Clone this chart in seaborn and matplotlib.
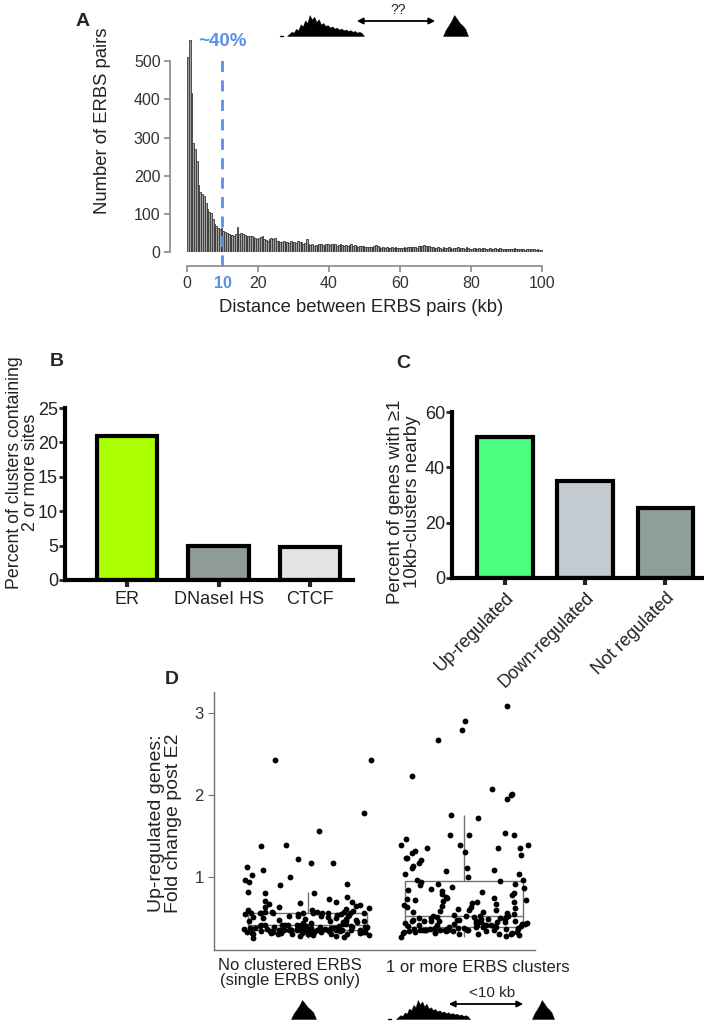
import numpy as np
import pandas as pd
import matplotlib
matplotlib.use('Agg')
import matplotlib.pyplot as plt
import seaborn as sns

W, H = 704, 1023

# Panel A: distances between ERBS pairs, 0.5 kb bins from 0 to 100 kb
bin_edges = np.arange(0, 100.5, 0.5)
pair_counts = [
    510, 555, 418, 285, 269, 238, 176, 158, 153, 147, 128, 112, 106, 101, 86, 73, 68, 64, 59, 62,
    55, 52, 50, 47, 45, 44, 41, 46, 66, 48, 50, 46, 44, 42, 41, 43, 42, 40, 36, 35,
    38, 40, 41, 34, 31, 30, 33, 36, 35, 38, 30, 28, 27, 25, 29, 26, 27, 24, 28, 26,
    27, 24, 29, 25, 26, 22, 24, 35, 20, 18, 21, 17, 19, 18, 20, 22, 19, 17, 20, 21,
    19, 20, 18, 21, 17, 19, 20, 18, 16, 19, 17, 18, 20, 16, 18, 17, 14, 17, 15, 16,
    13, 12, 14, 12, 13, 16, 18, 17, 12, 11, 13, 10, 12, 11, 10, 12, 11, 13, 10, 11,
    11, 10, 12, 11, 13, 12, 14, 13, 12, 11, 16, 17, 15, 18, 16, 15, 17, 14, 12, 11,
    10, 12, 11, 9, 12, 10, 11, 13, 10, 9, 11, 10, 12, 9, 11, 10, 9, 12, 10, 9,
    9, 11, 10, 8, 10, 9, 11, 10, 8, 9, 10, 8, 9, 11, 9, 8, 10, 9, 8, 9,
    8, 9, 7, 8, 10, 8, 7, 9, 8, 7, 6, 8, 7, 6, 7, 8, 6, 7, 5, 6,
]
a_xticks = [0, 20, 40, 60, 80, 100]
a_yticks = [0, 100, 200, 300, 400, 500]

# Panel B
b_marks = ['ER', 'DNaseI HS', 'CTCF']
b_percent = [21.0, 5.0, 4.8]
b_colors = ['#aaff00', '#8f9b98', '#e3e5e5']

# Panel C
c_groups = ['Up-regulated', 'Down-regulated', 'Not regulated']
c_percent = [50.9, 35.1, 25.4]
c_colors = ['#4dff80', '#c3cbd0', '#909e9a']

# Panel D: fold change of up-regulated genes
d_groups = ['No clustered ERBS\n(single ERBS only)', '1 or more ERBS clusters']
fold_single = [
    0.26, 0.27, 0.28, 0.28, 0.29, 0.29, 0.30, 0.30, 0.30, 0.31, 0.31, 0.31, 0.31, 0.32, 0.32, 0.32,
    0.32, 0.32, 0.33, 0.33, 0.33, 0.33, 0.33, 0.33, 0.34, 0.34, 0.34, 0.34, 0.34, 0.34, 0.34, 0.35,
    0.35, 0.35, 0.35, 0.35, 0.35, 0.35, 0.35, 0.35,
    0.36, 0.36, 0.36, 0.36, 0.36, 0.36, 0.36, 0.36, 0.37, 0.37, 0.37, 0.37, 0.37, 0.37, 0.37, 0.37,
    0.38, 0.38, 0.38, 0.38, 0.38, 0.38, 0.38, 0.38, 0.39, 0.39, 0.39, 0.39, 0.39, 0.39, 0.40, 0.40,
    0.40, 0.40, 0.40, 0.40, 0.41, 0.41, 0.41, 0.41,
    0.41, 0.42, 0.42, 0.43, 0.43, 0.44, 0.44, 0.45, 0.45, 0.46, 0.46, 0.47, 0.47, 0.48, 0.48, 0.49,
    0.49, 0.50, 0.50, 0.51, 0.51, 0.52, 0.52, 0.53, 0.53, 0.54, 0.54, 0.55, 0.55, 0.55, 0.56, 0.56,
    0.56, 0.56, 0.56, 0.56, 0.56, 0.56, 0.56, 0.56,
    0.57, 0.57, 0.58, 0.58, 0.59, 0.60, 0.60, 0.61, 0.62, 0.63, 0.64, 0.65, 0.66, 0.67, 0.68, 0.69,
    0.70, 0.71, 0.73, 0.76, 0.81, 0.81, 0.82, 0.90, 0.92, 0.94, 0.96, 1.00, 1.03, 1.09, 1.12, 1.17,
    1.17, 1.22, 1.38, 1.39, 1.56, 1.78, 2.43, 2.43,
]
fold_cluster = [
    0.27, 0.28, 0.29, 0.30, 0.30, 0.31, 0.31, 0.32, 0.32, 0.32, 0.33, 0.33, 0.33, 0.33, 0.34, 0.34,
    0.34, 0.34, 0.35, 0.35, 0.35, 0.35, 0.35, 0.36, 0.36, 0.36, 0.36, 0.36, 0.37, 0.37, 0.37, 0.37,
    0.37, 0.38, 0.38, 0.38, 0.38, 0.39, 0.39, 0.39,
    0.39, 0.40, 0.40, 0.40, 0.41, 0.41, 0.41, 0.42, 0.42, 0.42, 0.43, 0.43, 0.43, 0.44, 0.44, 0.44,
    0.45, 0.45, 0.45, 0.46, 0.46, 0.46, 0.47, 0.47, 0.47, 0.48, 0.48, 0.48, 0.49, 0.49, 0.49, 0.50,
    0.50, 0.50, 0.51, 0.51, 0.51, 0.52, 0.52, 0.52,
    0.53, 0.54, 0.55, 0.56, 0.57, 0.58, 0.59, 0.60, 0.60, 0.61, 0.62, 0.63, 0.64, 0.65, 0.66, 0.67,
    0.68, 0.69, 0.70, 0.71, 0.72, 0.72, 0.73, 0.74, 0.75, 0.76, 0.78, 0.79, 0.80, 0.82, 0.83, 0.84,
    0.86, 0.87, 0.88, 0.90, 0.91, 0.92, 0.94, 0.95,
    0.96, 0.96, 1.00, 1.04, 1.04, 1.08, 1.09, 1.11, 1.11, 1.13, 1.17, 1.21, 1.23, 1.23, 1.27, 1.30,
    1.31, 1.32, 1.35, 1.35, 1.35, 1.39, 1.39, 1.39, 1.46, 1.51, 1.51, 1.52, 1.54, 1.72, 1.76, 1.95,
    2.00, 2.02, 2.07, 2.23, 2.67, 2.79, 2.91, 3.09,
]
d_yticks = [1, 2, 3]

# little peak drawings (relative heights)
broad_peak = [0, 0.1, 0.2, 0.16, 0.34, 0.28, 0.55, 0.46, 0.74, 0.62, 1.0, 0.78, 0.92, 0.66, 0.8, 0.55,
              0.62, 0.48, 0.52, 0.4, 0.46, 0.35, 0.4, 0.3, 0.36, 0.27, 0.31, 0.24, 0.28, 0.2, 0.24,
              0.16, 0.2, 0.14, 0]
sharp_peak = [0, 0.3, 0.5, 0.72, 1.0, 0.82, 0.62, 0.5, 0.35, 0]

sns.set_style('ticks')
plt.rcParams['font.family'] = ['Liberation Sans', 'DejaVu Sans']

fig = plt.figure(figsize=(W / 100, H / 100), dpi=100)


def px_axes(left, top, right, bottom):
    return fig.add_axes([left / W, 1 - bottom / H, (right - left) / W, (bottom - top) / H])


# ---- Panel A
blue = '#5b8fe8'
axA = px_axes(180, 38.4, 545, 252)
hist_df = pd.DataFrame({'kb': bin_edges[:-1] + 0.25, 'pairs': pair_counts})
sns.histplot(data=hist_df, x='kb', weights='pairs', bins=list(bin_edges), ax=axA,
             color='#a3a3a3', edgecolor='#383838', linewidth=0.6, alpha=1)
axA.set_xlim(-1.97, 100.85)
axA.set_ylim(0, 560)
sns.despine(ax=axA)
axA.spines['left'].set_position(('outward', 7))
axA.spines['bottom'].set_position(('outward', 10))
axA.spines['left'].set_bounds(0, 500)
axA.spines['bottom'].set_bounds(0, 100)
for s in ['left', 'bottom']:
    axA.spines[s].set_color('#8a8a8a')
    axA.spines[s].set_linewidth(1.2)
axA.set_xticks(a_xticks)
axA.set_yticks(a_yticks)
axA.tick_params(labelsize=11.5, colors='#8a8a8a', labelcolor='#333333', length=4, width=1.2, pad=3)
axA.set_xticks([10], minor=True)
axA.set_xticklabels(['10'], minor=True)
axA.tick_params(axis='x', which='minor', length=0, pad=7, labelsize=11.5, labelcolor=blue)
for t in axA.get_xticklabels(minor=True):
    t.set_fontweight('bold')
axA.plot([10, 10], [-36, 525], ls='--', color=blue, lw=2, dashes=(4, 3), clip_on=False)
axA.text(10, 553, '~40%', color=blue, fontsize=13.5, fontweight='bold', ha='center', va='center')
axA.set_xlabel('Distance between ERBS pairs (kb)', fontsize=13.3, color='#222222')
axA.set_ylabel('Number of ERBS pairs', fontsize=13.3, color='#222222')
axA.xaxis.set_label_coords(0.496, -0.222)
axA.yaxis.set_label_coords(-0.19, 0.613)

# ---- Panel B
axB = px_axes(65, 408, 353, 580)
sns.barplot(x=b_marks, y=b_percent, hue=b_marks, palette=b_colors, legend=False,
            saturation=1, width=0.66, edgecolor='black', linewidth=3, ax=axB)
axB.set_xlim(-0.68, 2.47)
axB.set_ylim(0, 25)
axB.set_yticks([0, 5, 10, 15, 20, 25])
sns.despine(ax=axB)
for s in ['left', 'bottom']:
    axB.spines[s].set_linewidth(3)
    axB.spines[s].set_color('black')
axB.tick_params(axis='y', labelsize=13, length=4, width=2, pad=1, labelcolor='#222222')
axB.tick_params(axis='x', labelsize=13, length=5, width=3, pad=3, labelcolor='#222222')
axB.set_ylabel('Percent of clusters containing\n2 or more sites', fontsize=12.8, color='#222222',
               linespacing=0.92)
axB.yaxis.set_label_coords(-0.092, 0.626)

# ---- Panel C
axC = px_axes(452, 412, 703, 578)
sns.barplot(x=c_groups, y=c_percent, hue=c_groups, palette=c_colors, legend=False,
            saturation=1, width=0.69, edgecolor='black', linewidth=3, ax=axC)
axC.set_xlim(-0.66, 2.47)
axC.set_ylim(0, 60)
axC.set_yticks([0, 20, 40, 60])
sns.despine(ax=axC)
for s in ['left', 'bottom']:
    axC.spines[s].set_linewidth(3)
    axC.spines[s].set_color('black')
axC.tick_params(axis='y', labelsize=13, length=4, width=2, pad=1, labelcolor='#222222')
axC.tick_params(axis='x', labelsize=13, length=5, width=3, pad=3, labelcolor='#222222')
for t in axC.get_xticklabels():
    t.set_rotation(45)
    t.set_ha('right')
    t.set_rotation_mode('anchor')
axC.set_ylabel('Percent of genes with \u22651\n10kb-clusters nearby', fontsize=13.4, color='#222222',
               linespacing=0.95)
axC.yaxis.set_label_coords(-0.125, 0.458)

# ---- Panel D
d_df = pd.DataFrame({
    'group': [d_groups[0]] * len(fold_single) + [d_groups[1]] * len(fold_cluster),
    'fold': fold_single + fold_cluster,
})
axD = px_axes(214, 692, 535, 950)
sns.boxplot(data=d_df, x='group', y='fold', order=d_groups, width=0.76, showfliers=False,
            showcaps=False, fill=False, color='#707070', linewidth=1, ax=axD)
np.random.seed(7)
sns.stripplot(data=d_df, x='group', y='fold', order=d_groups, color='black', size=4.2,
              jitter=0.41, ax=axD)
axD.set_xlim(-0.60, 1.455)
axD.set_ylim(0.11, 3.26)
axD.set_yticks(d_yticks)
axD.set_xticks([0, 1])
axD.set_xticklabels(['', ''])
sns.despine(ax=axD)
for s in ['left', 'bottom']:
    axD.spines[s].set_color('#707070')
    axD.spines[s].set_linewidth(1)
axD.tick_params(axis='y', labelsize=12, length=4, colors='#707070', labelcolor='#333333')
axD.tick_params(axis='x', length=0)
axD.set_xlabel('')
axD.set_ylabel('Up-regulated genes:\nFold change post E2', fontsize=14, color='#222222',
               linespacing=1.0)
axD.yaxis.set_label_coords(-0.10, 0.492)

# ---- panel letters, group names and peak sketches
over = fig.add_axes([0, 0, 1, 1])
over.set_xlim(0, W)
over.set_ylim(H, 0)
over.axis('off')
over.patch.set_alpha(0)

for letter, (lx, ly) in zip('ABCD', [(83, 21), (57, 362), (403, 363), (172, 680)]):
    over.text(lx, ly, letter, fontsize=14, fontweight='bold', ha='center', va='center')

over.text(290, 973, d_groups[0], fontsize=12, ha='center', va='center', color='#222222',
          linespacing=1.05)
over.text(478, 968, d_groups[1], fontsize=12, ha='center', va='center', color='#222222')


def draw_peak(x0, x1, base, height, profile):
    xs = np.linspace(x0, x1, len(profile))
    ys = base - height * np.asarray(profile)
    over.fill_between(xs, base, ys, color='black', lw=0.3)


# top sketch (panel A)
over.plot([280, 283], [36, 36], color='black', lw=1)
draw_peak(287, 364, 36, 21, broad_peak)
draw_peak(443, 468, 36, 21, sharp_peak)
over.annotate('', xy=(438, 21), xytext=(354, 21),
              arrowprops=dict(arrowstyle='<|-|>', color='black', lw=1.3, mutation_scale=9))
over.text(398, 10, '??', fontsize=10, ha='center', va='center')

# bottom sketches (panel D)
draw_peak(291, 316, 1019, 19, sharp_peak)
over.plot([388, 391], [1019, 1019], color='black', lw=1)
draw_peak(396, 470, 1019, 19, broad_peak)
draw_peak(532, 554, 1019, 19, sharp_peak)
over.annotate('', xy=(526, 1004), xytext=(446, 1004),
              arrowprops=dict(arrowstyle='<|-|>', color='black', lw=1.3, mutation_scale=9))
over.text(492, 993, '<10 kb', fontsize=11, ha='center', va='center')

fig.savefig('out.png', dpi=100)
